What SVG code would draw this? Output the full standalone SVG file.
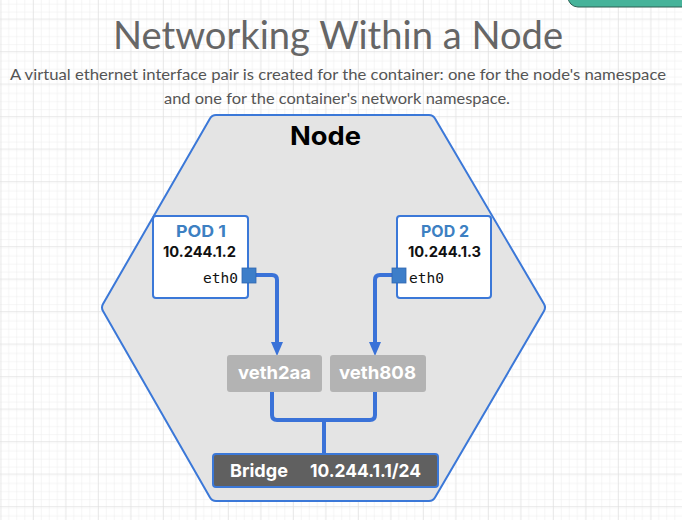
<svg xmlns="http://www.w3.org/2000/svg" width="682" height="520" viewBox="0 0 682 520">
<defs>
<pattern id="minor" width="8.125" height="8.125" patternUnits="userSpaceOnUse" x="0.5" y="2.25">
<path d="M8.125,0 V8.125 M0,8.125 H8.125" fill="none" stroke="#ececec" stroke-width="1"/>
</pattern>
<pattern id="major" width="32.5" height="32.5" patternUnits="userSpaceOnUse" x="0.5" y="18.5">
<rect width="32.5" height="32.5" fill="url(#minor)"/>
<path d="M0,0 V32.5 M0,0 H32.5" fill="none" stroke="#dcdcdc" stroke-width="1"/>
</pattern>
<marker id="arr" viewBox="0 0 14 12" markerWidth="14" markerHeight="12" markerUnits="userSpaceOnUse" refX="1" refY="6" orient="auto">
<path d="M0,0 L14,6 L0,12 z" fill="#3a72d8"/>
</marker>
<style>
.title{font-family:Lato,"Open Sans",sans-serif;fill:#666;}
.sub{font-family:Lato,"Open Sans",sans-serif;fill:#555;font-size:16px;}
.bold{font-family:Inter,"Open Sans",sans-serif;font-weight:700;}
.pod{fill:#fff;stroke:#3b78d8;stroke-width:2;}
.podlbl{fill:#3d80c2;font-size:16px;}
.ip{fill:#111;font-size:14.5px;}
.mono{font-family:"DejaVu Sans Mono","Liberation Mono",monospace;font-size:14px;fill:#111;}
.port{fill:#3d7ec9;stroke:#3167b0;stroke-width:0.8;}
.veth{fill:#b3b3b3;}
.vlbl{fill:#fff;font-size:18px;}
.conn{fill:none;stroke:#3a72d8;stroke-width:4;stroke-linejoin:round;}
</style>
</defs>
<rect width="682" height="520" fill="#fff"/>
<rect width="682" height="520" fill="url(#major)"/>
<rect x="568" y="-30" width="134" height="37" rx="10" fill="#46b39a" stroke="#2d5e52" stroke-width="1"/>

<text class="title" x="338" y="49" font-size="38" text-anchor="middle" textLength="450" lengthAdjust="spacingAndGlyphs">Networking Within a Node</text>
<text class="sub" x="338" y="80" text-anchor="middle" textLength="656" lengthAdjust="spacingAndGlyphs">A virtual ethernet interface pair is created for the container: one for the node's namespace</text>
<text class="sub" x="337" y="104" text-anchor="middle" textLength="346" lengthAdjust="spacingAndGlyphs">and one for the container's network namespace.</text>

<g id="node">
<path d="M216,115 H429 Q433,115 435,118.5 L544,304 Q546,307.5 544,311 L435,497.5 Q433,501 429,501 H216 Q212,501 210,497.5 L103,311 Q101,307.5 103,304 L210,118.5 Q212,115 216,115 Z" fill="#e4e4e4" stroke="#3b78d8" stroke-width="2"/>
<text class="bold" x="290" y="145" font-size="25" fill="#000" textLength="71" lengthAdjust="spacingAndGlyphs">Node</text>
</g>

<g id="connectors">
<path class="conn" d="M256,275 H272 Q277,275 277,280 V343" marker-end="url(#arr)"/>
<path class="conn" d="M392,275 H380 Q375,275 375,280 V343" marker-end="url(#arr)"/>
<path class="conn" d="M272,392 V415 Q272,420 277,420 H370 Q375,420 375,415 V392"/>
<path class="conn" d="M324,420 V454"/>
</g>

<g id="pod1">
<rect class="pod" x="153" y="216" width="95" height="82" rx="3"/>
<text class="bold podlbl" x="176" y="237" textLength="50" lengthAdjust="spacingAndGlyphs">POD 1</text>
<text class="bold ip" x="163" y="257" textLength="73" lengthAdjust="spacingAndGlyphs">10.244.1.2</text>
<text class="mono" x="203" y="283" textLength="35" lengthAdjust="spacingAndGlyphs">eth0</text>
<rect class="port" x="242" y="268" width="14" height="15"/>
</g>

<g id="pod2">
<rect class="pod" x="397" y="216" width="94" height="82" rx="3"/>
<text class="bold podlbl" x="421" y="237" textLength="48" lengthAdjust="spacingAndGlyphs">POD 2</text>
<text class="bold ip" x="408" y="257" textLength="73" lengthAdjust="spacingAndGlyphs">10.244.1.3</text>
<text class="mono" x="409" y="283" textLength="35" lengthAdjust="spacingAndGlyphs">eth0</text>
<rect class="port" x="392" y="268" width="14" height="15"/>
</g>

<g id="veth2aa">
<rect class="veth" x="227" y="355" width="95" height="37" rx="3"/>
<text class="bold vlbl" x="238" y="379" textLength="73" lengthAdjust="spacingAndGlyphs">veth2aa</text>
</g>

<g id="veth808">
<rect class="veth" x="330" y="355" width="96" height="37" rx="3"/>
<text class="bold vlbl" x="339" y="379" textLength="77" lengthAdjust="spacingAndGlyphs">veth808</text>
</g>

<g id="bridge">
<rect x="213" y="454" width="225" height="33" rx="3" fill="#606060" stroke="#3b78d8" stroke-width="2"/>
<text class="bold" x="230" y="477" font-size="18" fill="#fff" textLength="58" lengthAdjust="spacingAndGlyphs">Bridge</text>
<text class="bold" x="310" y="477" font-size="18" fill="#fff" textLength="111" lengthAdjust="spacingAndGlyphs">10.244.1.1/24</text>
</g>
</svg>
